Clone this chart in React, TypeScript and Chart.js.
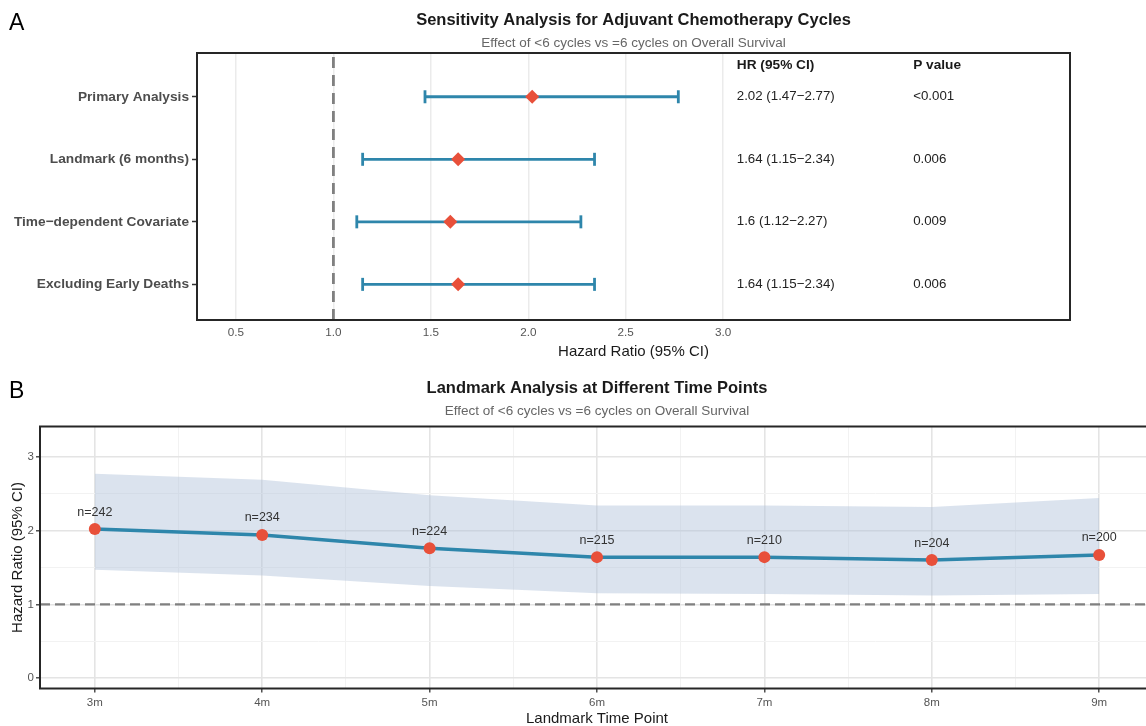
import React, { useEffect, useRef } from "react";
import { Chart, registerables } from "chart.js";

Chart.register(...registerables);

// ---------- Panel A data ----------
const CATEGORIES = [
  "Primary Analysis",
  "Landmark (6 months)",
  "Time\u2212dependent Covariate",
  "Excluding Early Deaths",
];
const HR_A = [2.02, 1.64, 1.6, 1.64];
const LO_A = [1.47, 1.15, 1.12, 1.15];
const HI_A = [2.77, 2.34, 2.27, 2.34];
const HR_TEXT = [
  "2.02 (1.47\u22122.77)",
  "1.64 (1.15\u22122.34)",
  "1.6 (1.12\u22122.27)",
  "1.64 (1.15\u22122.34)",
];
const P_TEXT = ["<0.001", "0.006", "0.009", "0.006"];
const X_TICKS_A = [0.5, 1.0, 1.5, 2.0, 2.5, 3.0];

// ---------- Panel B data ----------
const TIME_POINTS = [3, 4, 5, 6, 7, 8, 9];
const TIME_LABELS = ["3m", "4m", "5m", "6m", "7m", "8m", "9m"];
const HR_B = [2.02, 1.94, 1.76, 1.64, 1.64, 1.6, 1.67];
const LO_B = [1.47, 1.39, 1.25, 1.15, 1.14, 1.12, 1.14];
const HI_B = [2.77, 2.69, 2.48, 2.34, 2.34, 2.32, 2.44];
const N_B = [242, 234, 224, 215, 210, 204, 200];
const Y_TICKS_B = [0, 1, 2, 3];

const BLUE = "#2E86AB";
const RED = "#E8503A";
const FONT = "'Liberation Sans', Arial, Helvetica, sans-serif";
const SUBTITLE = "Effect of <6 cycles vs =6 cycles on Overall Survival";

Chart.defaults.font.family = FONT;

function txt(ctx, s, x, y, font, color, align = "center", base = "middle") {
  ctx.save();
  ctx.font = font;
  ctx.fillStyle = color;
  ctx.textAlign = align;
  ctx.textBaseline = base;
  ctx.fillText(s, x, y);
  ctx.restore();
}

const panelAPlugin = {
  id: "panelA",
  beforeDatasetsDraw(chart) {
    const { ctx, chartArea, scales } = chart;
    const x1 = scales.x.getPixelForValue(1);
    ctx.save();
    ctx.strokeStyle = "#808080";
    ctx.lineWidth = 2.8;
    ctx.setLineDash([11, 7]);
    ctx.beginPath();
    ctx.moveTo(x1, chartArea.top + 4);
    ctx.lineTo(x1, chartArea.bottom);
    ctx.stroke();
    ctx.restore();
  },
  afterDraw(chart) {
    const { ctx, chartArea, scales } = chart;
    const { left, top, right, bottom } = chartArea;
    ctx.save();
    ctx.strokeStyle = "#262626";
    ctx.lineWidth = 2;
    ctx.strokeRect(left, top, right - left, bottom - top);
    ctx.restore();
    const cx = (left + right) / 2;
    txt(ctx, "A", 9, 30, `23px ${FONT}`, "#000", "left", "alphabetic");
    txt(ctx, "Sensitivity Analysis for Adjuvant Chemotherapy Cycles", cx, 20, `bold 16.5px ${FONT}`, "#1a1a1a");
    txt(ctx, SUBTITLE, cx, 43, `13.5px ${FONT}`, "#666");
    txt(ctx, "Hazard Ratio (95% CI)", cx, 352, `15px ${FONT}`, "#1a1a1a");
    const xHR = scales.x.getPixelForValue(3.07);
    const xP = scales.x.getPixelForValue(3.975);
    const yH = scales.y.getPixelForValue(-0.5);
    txt(ctx, "HR (95% CI)", xHR, yH, `bold 13.7px ${FONT}`, "#1a1a1a", "left");
    txt(ctx, "P value", xP, yH, `bold 13.7px ${FONT}`, "#1a1a1a", "left");
    CATEGORIES.forEach((_, i) => {
      const y = scales.y.getPixelForValue(i);
      txt(ctx, HR_TEXT[i], xHR, y, `13.3px ${FONT}`, "#222", "left");
      txt(ctx, P_TEXT[i], xP, y, `13.3px ${FONT}`, "#222", "left");
    });
  },
};

const panelBPlugin = {
  id: "panelB",
  beforeDatasetsDraw(chart) {
    const { ctx, chartArea, scales } = chart;
    const y1 = scales.y.getPixelForValue(1);
    ctx.save();
    ctx.strokeStyle = "#808080";
    ctx.lineWidth = 2.3;
    ctx.setLineDash([10, 5]);
    ctx.beginPath();
    ctx.moveTo(chartArea.left, y1);
    ctx.lineTo(chartArea.right, y1);
    ctx.stroke();
    ctx.restore();
  },
  afterDraw(chart) {
    const { ctx, chartArea, scales } = chart;
    const { left, top, right, bottom } = chartArea;
    ctx.save();
    ctx.strokeStyle = "#262626";
    ctx.lineWidth = 2;
    ctx.strokeRect(left, top, right - left, bottom - top);
    ctx.restore();
    const cx = (left + right) / 2;
    txt(ctx, "B", 9, 35, `23px ${FONT}`, "#000", "left", "alphabetic");
    txt(ctx, "Landmark Analysis at Different Time Points", cx, 25, `bold 16.5px ${FONT}`, "#1a1a1a");
    txt(ctx, SUBTITLE, cx, 48, `13.5px ${FONT}`, "#666");
    txt(ctx, "Landmark Time Point", cx, 355.5, `15px ${FONT}`, "#1a1a1a");
    ctx.save();
    ctx.translate(18, (top + bottom) / 2);
    ctx.rotate(-Math.PI / 2);
    txt(ctx, "Hazard Ratio (95% CI)", 0, 0, `15px ${FONT}`, "#1a1a1a");
    ctx.restore();
    TIME_POINTS.forEach((t, i) => {
      const x = scales.x.getPixelForValue(t);
      const y = scales.y.getPixelForValue(HR_B[i]);
      txt(ctx, `n=${N_B[i]}`, x, y - 17, `12.5px ${FONT}`, "#333");
    });
  },
};

function PanelA() {
  const ref = useRef<HTMLCanvasElement>(null);
  useEffect(() => {
    const datasets: any[] = [
      {
        type: "scatter",
        data: HR_A.map((v, i) => ({ x: v, y: i })),
        pointStyle: "rectRot",
        pointRadius: 7,
        pointHoverRadius: 7,
        backgroundColor: RED,
        borderColor: RED,
        borderWidth: 0,
      },
    ];
    CATEGORIES.forEach((_, i) =>
      datasets.push({
        type: "line",
        data: [
          { x: LO_A[i], y: i },
          { x: HI_A[i], y: i },
        ],
        showLine: true,
        borderColor: BLUE,
        borderWidth: 2.8,
        pointStyle: "line",
        pointRadius: 6.5,
        pointRotation: 90,
        pointBorderColor: BLUE,
        pointBorderWidth: 2.8,
        pointHoverRadius: 6.5,
      })
    );
    const chart = new Chart(ref.current!, {
      type: "scatter",
      data: { datasets },
      options: {
        animation: false,
        responsive: false,
        devicePixelRatio: 1,
        layout: { padding: { left: 0, top: 53, right: 76, bottom: 0 } },
        plugins: { legend: { display: false }, tooltip: { enabled: false } },
        scales: {
          x: {
            type: "linear",
            min: 0.3,
            max: 4.78,
            afterBuildTicks: (s: any) => {
              s.ticks = X_TICKS_A.map((v) => ({ value: v }));
            },
            afterFit: (s: any) => {
              s.height = 43;
            },
            ticks: {
              autoSkip: false,
              maxRotation: 0,
              padding: 6,
              color: "#555",
              font: { size: 11.7 },
              callback: (v: any) => Number(v).toFixed(1),
            },
            grid: { color: "#EBEBEB", lineWidth: 1.5, drawTicks: false },
            border: { display: false },
          },
          y: {
            type: "linear",
            reverse: true,
            min: -0.7,
            max: 3.57,
            afterBuildTicks: (s: any) => {
              s.ticks = CATEGORIES.map((_, i) => ({ value: i }));
            },
            afterFit: (s: any) => {
              s.width = 197;
            },
            ticks: {
              autoSkip: false,
              padding: 3,
              color: "#4D4D4D",
              font: { size: 13.7, weight: "bold" },
              callback: (v: any) => CATEGORIES[v] ?? "",
            },
            grid: {
              drawOnChartArea: false,
              drawTicks: true,
              tickLength: 5,
              tickColor: "#333",
              tickWidth: 1.5,
            },
            border: { display: false },
          },
        },
      },
      plugins: [panelAPlugin],
    });
    return () => chart.destroy();
  }, []);
  return <canvas ref={ref} width={1146} height={363} style={{ display: "block" }} />;
}

function PanelB() {
  const ref = useRef<HTMLCanvasElement>(null);
  useEffect(() => {
    const isMajor = (v: any) => Number.isInteger(v);
    const chart = new Chart(ref.current!, {
      type: "line",
      data: {
        datasets: [
          {
            data: TIME_POINTS.map((t, i) => ({ x: t, y: HR_B[i] })),
            borderColor: BLUE,
            borderWidth: 3.5,
            pointRadius: 6,
            pointHoverRadius: 6,
            pointBackgroundColor: RED,
            pointBorderColor: RED,
            pointBorderWidth: 0,
            fill: false,
            tension: 0,
          },
          {
            data: TIME_POINTS.map((t, i) => ({ x: t, y: HI_B[i] })),
            borderWidth: 0,
            pointRadius: 0,
            pointHoverRadius: 0,
            fill: "+1",
            backgroundColor: "rgba(176,194,218,0.45)",
            tension: 0,
          },
          {
            data: TIME_POINTS.map((t, i) => ({ x: t, y: LO_B[i] })),
            borderWidth: 0,
            pointRadius: 0,
            pointHoverRadius: 0,
            fill: false,
            tension: 0,
          },
        ],
      },
      options: {
        animation: false,
        responsive: false,
        devicePixelRatio: 1,
        layout: { padding: { left: 0, top: 63.5, right: 3, bottom: 0 } },
        plugins: { legend: { display: false }, tooltip: { enabled: false } },
        scales: {
          x: {
            type: "linear",
            min: 2.6725,
            max: 9.3275,
            afterBuildTicks: (s: any) => {
              const t: any[] = [];
              TIME_POINTS.forEach((v, i) => {
                t.push({ value: v });
                if (i < TIME_POINTS.length - 1) t.push({ value: v + 0.5 });
              });
              s.ticks = t;
            },
            afterFit: (s: any) => {
              s.height = 37.5;
            },
            ticks: {
              autoSkip: false,
              maxRotation: 0,
              padding: 3,
              color: "#555",
              font: { size: 11.5 },
              callback: (v: any) => {
                const idx = TIME_POINTS.indexOf(Number(v));
                return idx >= 0 ? TIME_LABELS[idx] : "";
              },
            },
            grid: {
              color: (c: any) => (isMajor(c.tick?.value) ? "#E4E4E4" : "#F2F2F2"),
              lineWidth: (c: any) => (isMajor(c.tick?.value) ? 1.6 : 1),
              drawTicks: true,
              tickLength: 4,
              tickWidth: 1.3,
              tickColor: (c: any) => (isMajor(c.tick?.value) ? "#333" : "rgba(0,0,0,0)"),
            },
            border: { display: false },
          },
          y: {
            type: "linear",
            min: -0.14,
            max: 3.41,
            afterBuildTicks: (s: any) => {
              const t: any[] = [];
              Y_TICKS_B.forEach((v, i) => {
                t.push({ value: v });
                if (i < Y_TICKS_B.length - 1) t.push({ value: v + 0.5 });
              });
              s.ticks = t;
            },
            afterFit: (s: any) => {
              s.width = 40;
            },
            ticks: {
              autoSkip: false,
              padding: 2,
              color: "#555",
              font: { size: 11.5 },
              callback: (v: any) => (Y_TICKS_B.includes(Number(v)) ? String(v) : ""),
            },
            grid: {
              color: (c: any) => (isMajor(c.tick?.value) ? "#E4E4E4" : "#F2F2F2"),
              lineWidth: (c: any) => (isMajor(c.tick?.value) ? 1.6 : 1),
              drawTicks: true,
              tickLength: 4,
              tickWidth: 1.3,
              tickColor: (c: any) => (isMajor(c.tick?.value) ? "#333" : "rgba(0,0,0,0)"),
            },
            border: { display: false },
          },
        },
      },
      plugins: [panelBPlugin],
    });
    return () => chart.destroy();
  }, []);
  return <canvas ref={ref} width={1160} height={363} style={{ display: "block" }} />;
}

export default function App() {
  return (
    <div
      style={{
        position: "fixed",
        left: 0,
        top: 0,
        width: 1146,
        height: 726,
        overflow: "hidden",
        background: "#fff",
      }}
    >
      <PanelA />
      <PanelB />
    </div>
  );
}
